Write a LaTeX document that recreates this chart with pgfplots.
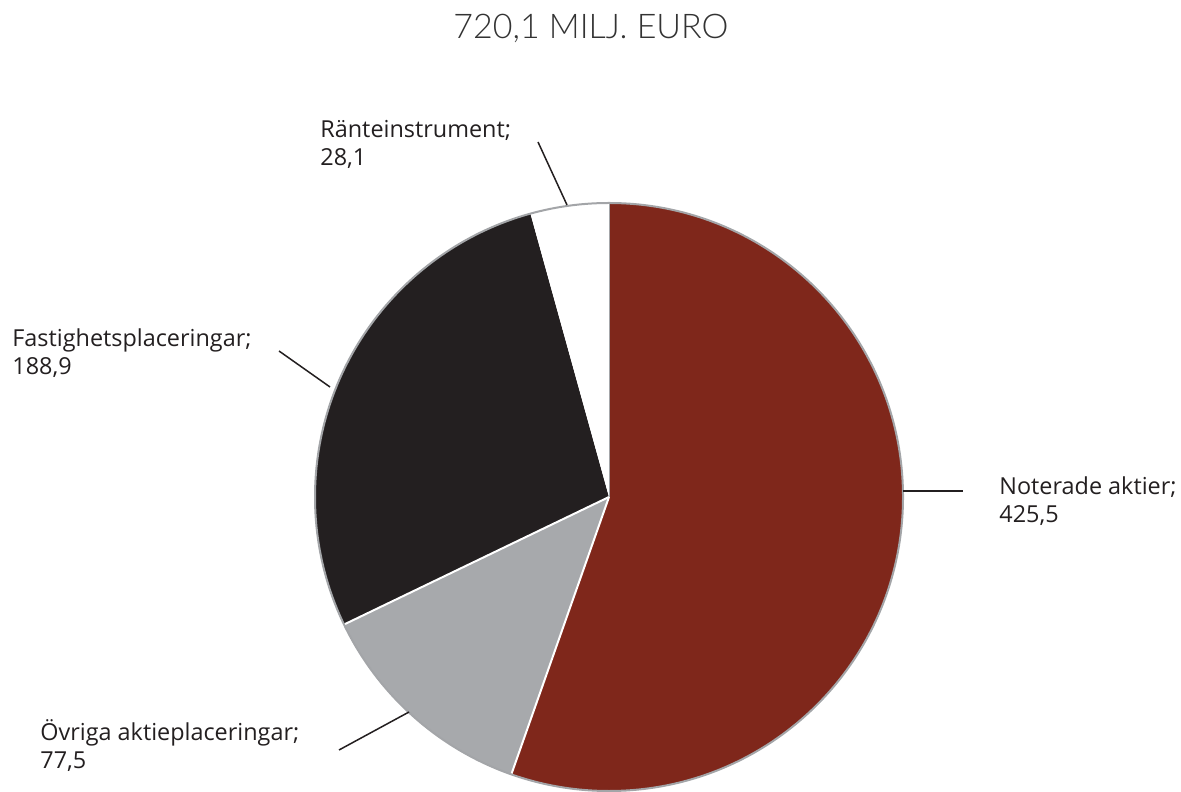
\documentclass[border=0pt]{standalone}
\usepackage{pgfplots}
\usepackage{pgfplotstable}
\pgfplotsset{compat=1.18}
\usepackage{fontspec}
\setmainfont{Open Sans}
\newfontfamily\lightfont{Lato Light}

\definecolor{noterade}{HTML}{7F271B}
\definecolor{ovriga}{HTML}{A7A9AC}
\definecolor{fastighet}{HTML}{231F20}
\definecolor{rim}{HTML}{A3A5A8}
\definecolor{txt}{HTML}{231F20}

% value = number in the label, angle = size of the wedge in the picture (degrees)
\pgfplotstableread[col sep=comma]{
name,value,angle
Noterade aktier,425.5,199.4
Övriga aktieplaceringar,77.5,44.9
Fastighetsplaceringar,188.9,100.2
Ränteinstrument,28.1,15.5
}\piedata

\pgfplotstablegetelem{0}{angle}\of\piedata \let\aA\pgfplotsretval
\pgfplotstablegetelem{1}{angle}\of\piedata \let\aB\pgfplotsretval
\pgfplotstablegetelem{2}{angle}\of\piedata \let\aC\pgfplotsretval
\pgfplotstablegetelem{3}{angle}\of\piedata \let\aD\pgfplotsretval
\pgfplotstablegetelem{0}{value}\of\piedata \let\vA\pgfplotsretval
\pgfplotstablegetelem{1}{value}\of\piedata \let\vB\pgfplotsretval
\pgfplotstablegetelem{2}{value}\of\piedata \let\vC\pgfplotsretval
\pgfplotstablegetelem{3}{value}\of\piedata \let\vD\pgfplotsretval

% wedges run clockwise from the top
\pgfmathsetmacro\sA{90}
\pgfmathsetmacro\eA{\sA-\aA}
\pgfmathsetmacro\eB{\eA-\aB}
\pgfmathsetmacro\eC{\eB-\aC}
\pgfmathsetmacro\eD{\eC-\aD}

\def\cx{609}\def\cy{294}\def\R{294}
\def\u{0.5pt}
\newcommand\num[1]{\pgfmathprintnumber[fixed,precision=1,fixed zerofill,use comma,assume math mode=true]{#1}}

\begin{document}
\begin{tikzpicture}
\begin{axis}[
    x=\u, y=\u,
    xmin=0, xmax=1181, ymin=0, ymax=791,
    disabledatascaling, hide axis, clip=false,
  ]
  \fill[noterade] (axis cs:\cx,\cy) -- ++(\sA:\R*\u) arc[start angle=\sA, end angle=\eA, radius=\R*\u] -- cycle;
  \fill[ovriga] (axis cs:\cx,\cy) -- ++(\eA:\R*\u) arc[start angle=\eA, end angle=\eB, radius=\R*\u] -- cycle;
  \fill[fastighet] (axis cs:\cx,\cy) -- ++(\eB:\R*\u) arc[start angle=\eB, end angle=\eC, radius=\R*\u] -- cycle;
  \fill[white] (axis cs:\cx,\cy) -- ++(\eC:\R*\u) arc[start angle=\eC, end angle=\eD, radius=\R*\u] -- cycle;

  \draw[white, line width=1pt] (axis cs:\cx,\cy) -- ++(\eA:\R*\u);
  \draw[white, line width=1pt] (axis cs:\cx,\cy) -- ++(\eB:\R*\u);
  \draw[rim, line width=0.5pt] (axis cs:\cx,\cy) -- ++(\sA:\R*\u);
  \draw[rim, line width=1pt] (axis cs:\cx,\cy) circle[radius=\R*\u];

  % leader lines
  \draw[txt, line width=0.75pt] (axis cs:903,300) -- (axis cs:963,300);
  \draw[txt, line width=0.75pt] (axis cs:279,440) -- (axis cs:330,404);
  \draw[txt, line width=0.75pt] (axis cs:339,41) -- (axis cs:409,79);
  \draw[txt, line width=0.75pt] (axis cs:538,649) -- (axis cs:567,586);

  % labels
  \tikzset{lab/.style={anchor=base west, inner sep=0pt, text=txt, font=\fontsize{11.7}{14}\selectfont}}
  \node[lab] at (axis cs:999,296) {Noterade aktier;};
  \node[lab] at (axis cs:999,268) {\num{\vA}};
  \node[lab] at (axis cs:40,51) {Övriga aktieplaceringar;};
  \node[lab] at (axis cs:40,23) {\num{\vB}};
  \node[lab] at (axis cs:12,444) {Fastighetsplaceringar;};
  \node[lab] at (axis cs:12,416) {\num{\vC}};
  \node[lab] at (axis cs:320,653) {Ränteinstrument;};
  \node[lab] at (axis cs:320,625) {\num{\vD}};

  \node[anchor=base, inner sep=0pt, font=\lightfont\fontsize{17}{20}\selectfont, text=black!80] at (axis cs:591,752) {720,1 MILJ. EURO};
\end{axis}
\pgfresetboundingbox
\path (0,0) rectangle (1181*0.5pt,791*0.5pt);
\end{tikzpicture}
\end{document}
